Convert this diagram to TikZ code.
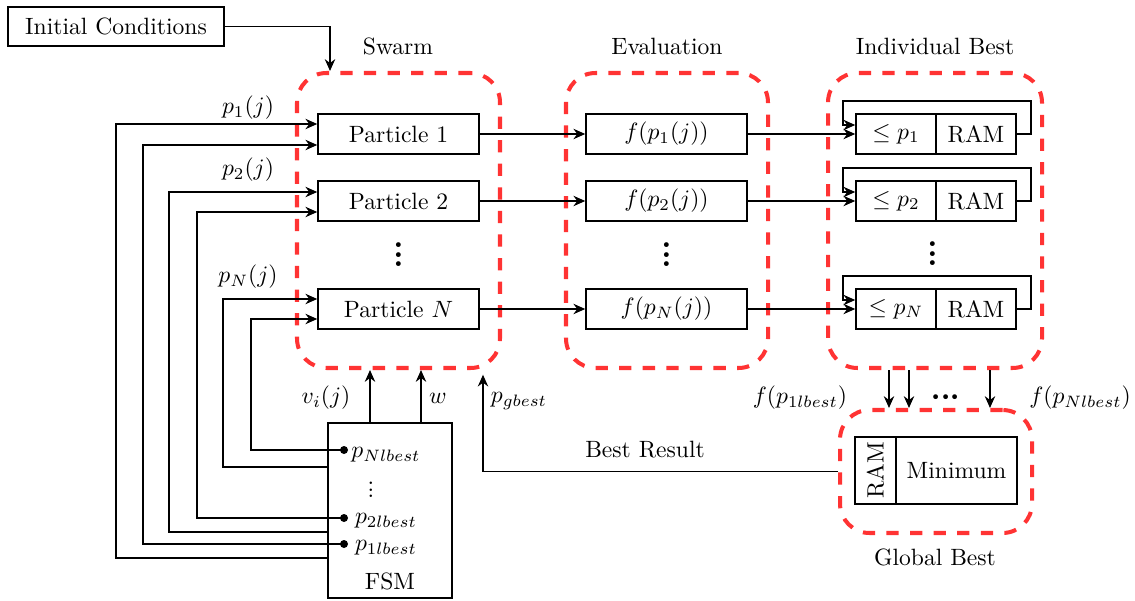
\documentclass[tikz,border=0pt]{standalone}
\usetikzlibrary{arrows.meta,positioning,calc}
\definecolor{dashred}{RGB}{255,51,51}
\newdimen\pu
\pu=0.424pt
% three stacked dots with a tight box (spacing given as argument)
\newcommand{\stackdots}[1]{\vbox{\baselineskip#1\lineskiplimit0pt\hbox{.}\hbox{.}\hbox{.}}}
\begin{document}
\begin{tikzpicture}[x=0.424pt,y=-0.424pt,
  wire/.style={line width=0.65pt},
  arr/.style={wire,-{Stealth[length=5pt,width=4.4pt]}},
  box/.style={draw,line width=0.65pt,inner sep=0pt,minimum height=40\pu},
  partbox/.style={box,minimum width=161\pu},
  halfbox/.style={box,minimum width=80\pu},
  group/.style={draw=dashred,line width=1.7pt,dash pattern=on 5.2pt off 4.8pt,
    rounded corners=12.5pt,inner sep=0pt},
  bigdots/.style={font=\Huge,inner sep=0pt},
  port/.style={circle,fill,inner sep=0pt,minimum size=8\pu}]
\useasboundingbox (0,0) rectangle (1135,601);

% groups
\node[group,minimum width=203\pu,minimum height=295\pu] (swarm) at (398.5,220.5) {};
\node[group,minimum width=202\pu,minimum height=295\pu] (eval) at (667,220.5) {};
\node[group,minimum width=214\pu,minimum height=295\pu] (ib) at (935,220.5) {};
\node[group,minimum width=192\pu,minimum height=123\pu] (gb) at (936,471.5) {};

\node (lswarm) at (398,46) {Swarm};
\node (leval) at (667,46) {Evaluation};
\node (lib) at (935,46) {Individual Best};
\node (lgb) at (935,557) {Global Best};

% initial conditions
\node[box,minimum width=216\pu,minimum height=39\pu] (init) at (116,26.5) {Initial Conditions};
\draw[arr] (init.east) -| ([xshift=-68.5\pu]swarm.north);

% particles
\node[partbox] (p1) at (398.5,134) {Particle 1};
\node[partbox] (p2) at (398.5,201) {Particle 2};
\node[partbox] (pN) at (398.5,309) {Particle $N$};
\node[bigdots] (pdots) at (398.5,255) {\stackdots{4pt}};

% evaluation
\node[partbox] (e1) at (666.5,134) {$f(p_1(j))$};
\node[partbox] (e2) at (666.5,201) {$f(p_2(j))$};
\node[partbox] (eN) at (666.5,309) {$f(p_N(j))$};
\node[bigdots] (edots) at (666.5,255) {\stackdots{4pt}};

% individual best
\node[halfbox] (c1) at (896,134) {$\leq p_1$};
\node[halfbox] (r1) at (976,134) {RAM};
\node[halfbox] (c2) at (896,201) {$\leq p_2$};
\node[halfbox] (r2) at (976,201) {RAM};
\node[halfbox] (cN) at (896,309) {$\leq p_N$};
\node[halfbox] (rN) at (976,309) {RAM};
\node[bigdots] (idots) at (933,254) {\stackdots{4pt}};

\foreach \a/\b/\c/\r in {p1/e1/c1/r1,p2/e2/c2/r2,pN/eN/cN/rN}{
  \draw[arr] (\a.east) -- (\b.west);
  \draw[arr] (\b.east) -- (\c.west);
  \draw[arr] (\r.east) -- ++(14,0) -- ++(0,-33) -- ++(-188,0) |- ([yshift=9\pu]\c.west);
}

% global best
\node[box,minimum width=41\pu,minimum height=67\pu] (gram) at (875.5,470.5) {};
\node[rotate=90] (gramt) at (gram.center) {RAM};
\node[box,minimum width=121\pu,minimum height=67\pu] (gmin) at (956.5,470.5) {Minimum};

\draw[arr] ([xshift=-46\pu]ib.south) -- ([xshift=-46\pu]ib.south |- gb.north);
\draw[arr] ([xshift=-26\pu]ib.south) -- ([xshift=-26\pu]ib.south |- gb.north);
\draw[arr] ([xshift=55\pu]ib.south) -- ([xshift=55\pu]ib.south |- gb.north);
\node[bigdots,rotate=90] (gdots) at (946,397) {\stackdots{4pt}};
\node (lf1) at (800,398) {$f(p_{1lbest})$};
\node (lfN) at (1080,398) {$f(p_{Nlbest})$};

% best result back to the swarm
\draw[arr] (gb.west) -| ([xshift=84.5\pu,yshift=-2pt]swarm.south);
\node (lgbest) at (519,401) {$p_{gbest}$};
\node (lbest) at (645,450) {Best Result};

% FSM
\node[draw,line width=0.65pt,minimum width=124\pu,minimum height=175\pu,inner sep=0pt] (fsm) at (390,510.5) {};
\node (lfsm) at (390,581) {FSM};
\node (lpN) at (386,455) {$p_{Nlbest}$};
\node[inner sep=0pt] (fdots) at (371,490) {\stackdots{2.8pt}};
\node (lp2) at (386,521) {$p_{2lbest}$};
\node (lp1) at (386,548) {$p_{1lbest}$};

\draw[arr] ([xshift=-20\pu]fsm.north) -- ([xshift=-20\pu]fsm.north |- swarm.south);
\draw[arr] ([xshift=31\pu]fsm.north) -- ([xshift=31\pu]fsm.north |- swarm.south);
\node (lv) at (326,398) {$v_i(j)$};
\node (lw) at (438,398) {$w$};

% ports on the FSM
\node[port] (dN) at (344,450) {};
\node[port] (d2) at (344,518) {};
\node[port] (d1) at (344,544) {};
\coordinate (oN) at (328,467);
\coordinate (o2) at (328,532);
\coordinate (o1) at (328,558);

\node (lpj1) at (248,108) {$p_1(j)$};
\node (lpj2) at (248,170) {$p_2(j)$};
\node (lpjN) at (248,277) {$p_N(j)$};

\draw[arr] (o1) -- ++(-212,0) |- ([yshift=10\pu]p1.west);
\draw[arr] (d1.center) -- ++(-201,0) |- ([yshift=-11\pu]p1.west);
\draw[arr] (o2) -- ++(-159,0) |- ([yshift=9\pu]p2.west);
\draw[arr] (d2.center) -- ++(-147,0) |- ([yshift=-11\pu]p2.west);
\draw[arr] (oN) -- ++(-105,0) |- ([yshift=10\pu]pN.west);
\draw[arr] (dN.center) -- ++(-93,0) |- ([yshift=-10\pu]pN.west);
\end{tikzpicture}
\end{document}
